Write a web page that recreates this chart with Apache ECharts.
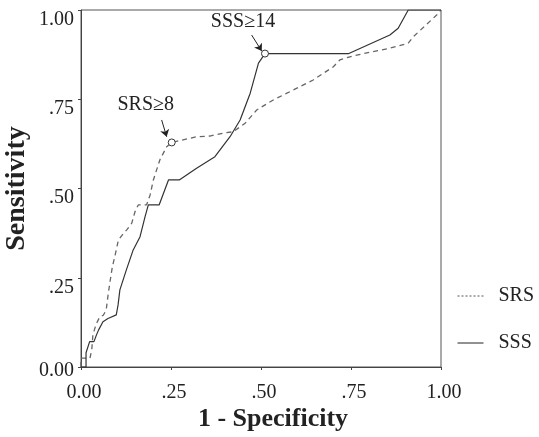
<!DOCTYPE html>
<html>
<head>
<meta charset="utf-8">
<script src="https://cdn.jsdelivr.net/npm/echarts@6/dist/echarts.min.js"></script>
<style>
  html, body { margin: 0; padding: 0; background: #fff; }
  #chart { width: 539px; height: 437px; }
</style>
</head>
<body>
<div id="chart"></div>
<script>
// ROC curves: [1 - specificity, sensitivity]
var srsPoints = [
  [0, 0], [0, 0.025], [0.025, 0.025], [0.03, 0.05], [0.033, 0.09], [0.042, 0.12],
  [0.052, 0.14], [0.062, 0.145], [0.07, 0.16], [0.075, 0.2], [0.08, 0.235],
  [0.087, 0.28], [0.094, 0.31], [0.104, 0.356], [0.118, 0.374], [0.127, 0.384],
  [0.141, 0.403], [0.15, 0.435], [0.159, 0.454], [0.182, 0.454], [0.192, 0.482],
  [0.201, 0.524], [0.219, 0.58], [0.238, 0.617], [0.252, 0.629], [0.321, 0.645],
  [0.358, 0.647], [0.395, 0.655], [0.423, 0.659], [0.456, 0.683], [0.488, 0.72],
  [0.534, 0.748], [0.59, 0.776], [0.645, 0.804], [0.701, 0.841], [0.719, 0.86],
  [0.747, 0.869], [0.803, 0.882], [0.858, 0.893], [0.909, 0.907], [0.923, 0.925],
  [0.988, 0.986], [1, 1]
];
var sssPoints = [
  [0, 0], [0.014, 0], [0.014, 0.04], [0.024, 0.071], [0.036, 0.071], [0.043, 0.09],
  [0.049, 0.104], [0.061, 0.127], [0.075, 0.136], [0.098, 0.146], [0.103, 0.174],
  [0.108, 0.216], [0.126, 0.272], [0.145, 0.328], [0.164, 0.365], [0.178, 0.421],
  [0.187, 0.454], [0.217, 0.454], [0.243, 0.524], [0.273, 0.524], [0.321, 0.557],
  [0.372, 0.589], [0.414, 0.645], [0.442, 0.692], [0.47, 0.767], [0.493, 0.851],
  [0.511, 0.878], [0.744, 0.878], [0.858, 0.93], [0.881, 0.949], [0.909, 1],
  [1, 1]
];

// cut-off points and their labels
var srsCut = [0.252, 0.629];
var sssCut = [0.511, 0.878];
var srsCutLabel = "SRS≥8";
var sssCutLabel = "SSS≥14";

var xTickLabels = ["0.00", ".25", ".50", ".75", "1.00"];
var yTickLabels = ["0.00", ".25", ".50", ".75", "1.00"];

var FONT = "Liberation Serif";
const myChart = echarts.init(document.getElementById("chart"));

function cutMark(pt, text, off) {
  return {
    symbol: "circle",
    symbolSize: 7,
    itemStyle: { color: "#fff", borderColor: "#333", borderWidth: 1 },
    label: {
      show: true,
      formatter: text,
      offset: off,
      fontFamily: FONT,
      fontSize: 20,
      color: "#222",
    },
    data: [{ coord: pt }],
  };
}

function arrow(from, to) {
  return {
    silent: true,
    symbol: ["none", "arrow"],
    symbolSize: 7,
    label: { show: false },
    lineStyle: { type: "solid", color: "#222", width: 1 },
    data: [[{ coord: from }, { coord: to }]],
  };
}

var option = {
  animation: false,
  grid: {
    show: true,
    outerBoundsMode: "none",
    containLabel: false,
    borderColor: "#555",
    borderWidth: 1,
    left: 81,
    top: 10,
    width: 360,
    height: 357,
  },
  legend: {
    orient: "vertical",
    left: 452,
    top: 281,
    itemWidth: 26,
    itemHeight: 20,
    itemGap: 27,
    itemStyle: { opacity: 0 },
    data: [
      { name: "SRS", lineStyle: { type: [2, 2], width: 1, color: "#555" } },
      { name: "SSS", lineStyle: { type: "solid", width: 1, color: "#222" } },
    ],
    textStyle: { fontFamily: FONT, fontSize: 20, color: "#222", padding: [0, 0, 0, 10] },
  },
  xAxis: {
    type: "value",
    min: 0,
    max: 1,
    interval: 0.25,
    name: "1 - Specificity",
    nameLocation: "middle",
    nameGap: 39,
    nameMoveOverlap: false,
    nameTextStyle: {
      fontFamily: FONT,
      fontSize: 26,
      fontWeight: "bold",
      color: "#222",
      padding: [0, 0, 0, 24],
    },
    axisLine: { lineStyle: { color: "#444" } },
    axisTick: { length: 3, lineStyle: { color: "#444" } },
    axisLabel: {
      margin: 16,
      padding: [0, 0, 0, 6],
      fontFamily: FONT,
      fontSize: 20,
      color: "#222",
      formatter: function (v) {
        return xTickLabels[Math.round(v / 0.25)];
      },
    },
    splitLine: { show: false },
  },
  yAxis: {
    type: "value",
    min: 0,
    max: 1,
    interval: 0.25,
    name: "Sensitivity",
    nameLocation: "middle",
    nameGap: 50,
    nameMoveOverlap: false,
    nameTextStyle: { fontFamily: FONT, fontSize: 28, fontWeight: "bold", color: "#222" },
    axisLine: { show: true, lineStyle: { color: "#444" } },
    axisTick: { show: true, length: 3, lineStyle: { color: "#444" } },
    axisLabel: {
      margin: 7,
      verticalAlign: "top",
      lineHeight: 19,
      fontFamily: FONT,
      fontSize: 20,
      color: "#222",
      formatter: function (v) {
        var i = Math.round(v / 0.25);
        return i === 0 ? "{z|" + yTickLabels[i] + "}" : yTickLabels[i];
      },
      rich: {
        z: { fontFamily: FONT, fontSize: 20, color: "#222", lineHeight: 8 },
      },
    },
    splitLine: { show: false },
  },
  series: [
    {
      name: "SRS",
      type: "line",
      data: srsPoints,
      showSymbol: false,
      symbol: "none",
      lineStyle: { color: "#666", width: 1.3, type: [5, 4] },
      itemStyle: { color: "#666" },
      markPoint: cutMark(srsCut, srsCutLabel, [-26, -38]),
      markLine: arrow([0.224, 0.692], [0.238, 0.645]),
      z: 3,
    },
    {
      name: "SSS",
      type: "line",
      data: sssPoints,
      showSymbol: false,
      symbol: "none",
      lineStyle: { color: "#333", width: 1.2 },
      itemStyle: { color: "#333" },
      markPoint: cutMark(sssCut, sssCutLabel, [-22, -32]),
      markLine: arrow([0.474, 0.93], [0.502, 0.885]),
      z: 3,
    },
  ],
};
myChart.setOption(option);
</script>
</body>
</html>
